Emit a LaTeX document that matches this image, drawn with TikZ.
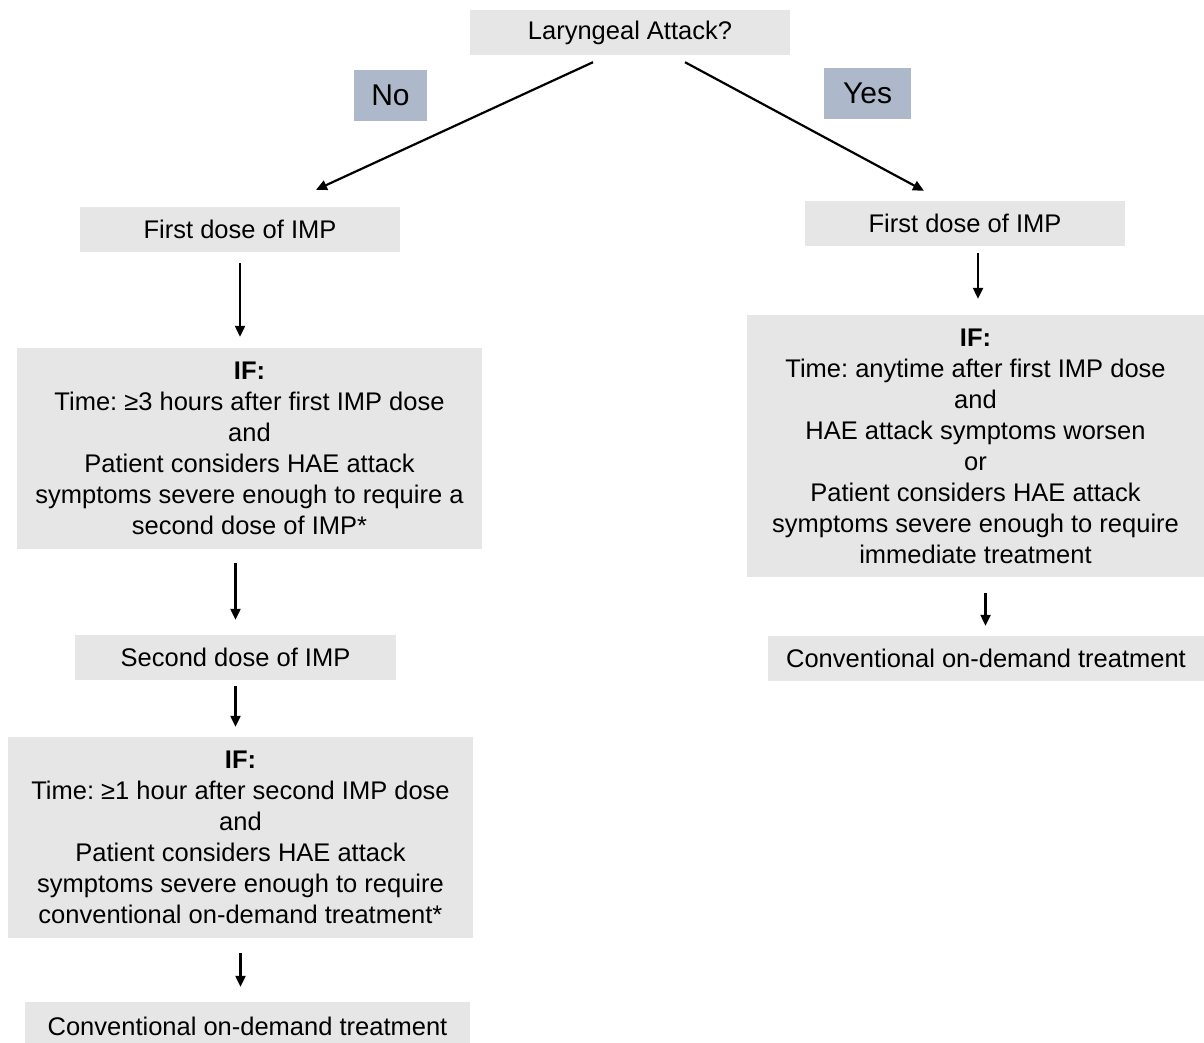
\documentclass[tikz,border=0pt]{standalone}
\usepackage{fontspec}
\setmainfont{Liberation Sans}
\usetikzlibrary{arrows.meta}
\definecolor{boxgray}{HTML}{E6E6E6}
\definecolor{taggray}{HTML}{ADB9CA}
\frenchspacing
\begin{document}
\begin{tikzpicture}[x=1pt, y=-1pt, >={Triangle[length=11pt,width=10pt]},
  box/.style={fill=boxgray, inner sep=0pt, align=center, font=\fontsize{25.5}{31}\selectfont},
  tag/.style={fill=taggray, inner sep=0pt, font=\fontsize{30}{34}\selectfont},
  arr/.style={->, line width=2.2pt}]
\useasboundingbox (0,0) rectangle (1204,1042);
\node[box, minimum width=320, minimum height=45](lar) at (630,32.5){Laryngeal Attack?};
\node[tag, minimum width=73, minimum height=51](no) at (390.5,95.5){No};
\node[tag, minimum width=87, minimum height=51](yes) at (867.5,93.5){Yes};
\node[box, minimum width=320, minimum height=45](fdl) at (240,229.5){First dose of IMP};
\node[box, minimum width=320, minimum height=45](fdr) at (965,223.5){First dose of IMP};
\node[box, minimum width=465, minimum height=201](ifl) at (249.5,448.5){\textbf{IF:}\\Time: ≥3 hours after first IMP dose\\and\\Patient considers HAE attack\\symptoms severe enough to require a\\second dose of IMP*};
\node[box, minimum width=457, minimum height=262](ifr) at (975.5,446){\textbf{IF:}\\Time: anytime after first IMP dose\\and\\HAE attack symptoms worsen\\or\\Patient considers HAE attack\\symptoms severe enough to require\\immediate treatment};
\node[box, minimum width=321, minimum height=45](sdl) at (235.5,657.5){Second dose of IMP};
\node[box, minimum width=465, minimum height=201](ifl2) at (240.5,837.5){\textbf{IF:}\\Time: ≥1 hour after second IMP dose\\and\\Patient considers HAE attack\\symptoms severe enough to require\\conventional on-demand treatment*};
\node[box, minimum width=436, minimum height=45](cvr) at (986,658.5){Conventional on-demand treatment};
\node[box, minimum width=445, minimum height=48](cvl) at (247.5,1026){Conventional on-demand treatment};
\draw[arr]([shift={(-37,7)}]lar.south)--([shift={(76,-17)}]fdl.north);
\draw[arr]([shift={(55,7)}]lar.south)--([shift={(-41,-10)}]fdr.north);
\draw[arr]([shift={(0,11)}]fdl.south)--([shift={(-9.5,-11)}]ifl.north);
\draw[arr]([shift={(13,7)}]fdr.south)--([shift={(2.5,-16)}]ifr.north);
\draw[arr]([shift={(-14,14)}]ifl.south)--([shift={(0,-15)}]sdl.north);
\draw[arr]([shift={(0,6)}]sdl.south)--([shift={(-5,-10)}]ifl2.north);
\draw[arr]([shift={(0,15)}]ifl2.south)--([shift={(-7,-15)}]cvl.north);
\draw[arr]([shift={(10,16)}]ifr.south)--([shift={(-0.5,-10)}]cvr.north);
\end{tikzpicture}
\end{document}
